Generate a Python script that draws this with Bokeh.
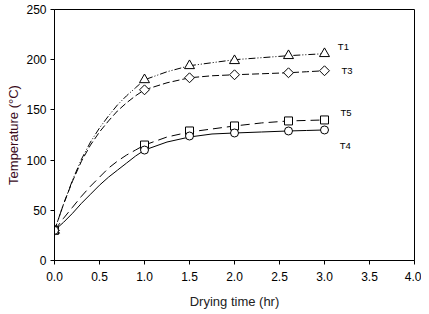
import math
from bokeh.plotting import figure
from bokeh.models import FixedTicker, NumeralTickFormatter, Label
from bokeh.embed import file_html
from bokeh.resources import INLINE

# measured points
time_pts = [0.0, 1.0, 1.5, 2.0, 2.6, 3.0]
t1_pts = [30, 180, 194, 199, 204, 206]
t3_pts = [30, 170, 182, 185, 187, 189]
t5_pts = [30, 115, 129, 134, 139, 140]
t4_pts = [30, 110, 124, 127, 129, 130]

# smooth fitted curves
curve_t = [0.0, 0.1, 0.2, 0.3, 0.4, 0.5, 0.6, 0.7, 0.8, 0.9, 1.0, 1.25, 1.5, 1.75, 2.0, 2.3, 2.6, 2.8, 3.0]
t1_curve = [30, 56, 80, 101, 118, 132, 144, 155, 164, 172, 180, 188, 194, 197, 200, 202, 204, 205, 206]
t3_curve = [30, 56, 79, 99, 115, 128, 139, 149, 157, 164, 170, 177, 182, 184, 185, 186, 187, 188, 189]
t5_curve = [30, 42, 53, 64, 74, 83, 92, 99, 105, 110, 115, 123, 128, 131, 134, 137, 139, 139.5, 140]
t4_curve = [30, 38, 47, 57, 66, 75, 83, 90, 97, 104, 110, 118, 123, 126, 127, 128, 129, 129.5, 130]

series_names = ["T1", "T3", "T5", "T4"]
x_ticks = [0.0, 0.5, 1.0, 1.5, 2.0, 2.5, 3.0, 3.5, 4.0]
y_ticks = [0, 50, 100, 150, 200, 250]

FONT = "Liberation Sans"

p = figure(width=421, height=311, x_range=(0, 4), y_range=(0, 250),
           output_backend="svg", toolbar_location=None,
           min_border_left=54, min_border_right=7, min_border_top=9, min_border_bottom=51)
p.grid.visible = False
p.outline_line_color = "black"
p.outline_line_width = 1
p.background_fill_color = "white"
p.border_fill_color = "white"

for ax in (p.xaxis[0], p.yaxis[0]):
    ax.major_tick_out = 4
    ax.major_tick_in = 0
    ax.minor_tick_line_color = None
    ax.axis_line_color = "black"
    ax.major_tick_line_color = "black"
    ax.major_label_text_font = FONT
    ax.major_label_text_font_size = "12px"
    ax.major_label_text_color = "black"
    ax.axis_label_text_font = FONT
    ax.axis_label_text_font_size = "13px"
    ax.axis_label_text_font_style = "normal"

p.xaxis.ticker = FixedTicker(ticks=x_ticks)
p.xaxis.formatter = NumeralTickFormatter(format="0.0")
p.yaxis.ticker = FixedTicker(ticks=y_ticks)
p.xaxis.axis_label = "Drying time (hr)"
p.yaxis.axis_label = "Temperature (°C)"
p.xaxis.axis_label_text_color = "#222222"
p.yaxis.axis_label_text_color = "#3a0a1a"
p.xaxis.axis_label_standoff = 10
p.yaxis.axis_label_standoff = 2
p.xaxis.major_label_standoff = 7
p.yaxis.major_label_standoff = 4

# curves
p.line(curve_t, t1_curve, line_color="black", line_width=1, line_dash="7 2 1 2 1 2")
p.line(curve_t, t3_curve, line_color="black", line_width=1, line_dash="7 3")
p.line(curve_t, t5_curve, line_color="black", line_width=1, line_dash="9 5")
p.line(curve_t, t4_curve, line_color="black", line_width=1)

# markers
p.scatter(time_pts, t1_pts, marker="triangle", size=10, fill_color="white", line_color="black", line_width=1)
p.scatter(time_pts, t3_pts, marker="square", size=7, angle=math.pi / 4, fill_color="white", line_color="black", line_width=1)
p.scatter(time_pts, t5_pts, marker="square", size=8, fill_color="white", line_color="black", line_width=1)
p.scatter(time_pts, t4_pts, marker="circle", size=8, fill_color="white", line_color="black", line_width=1)

label_x = [3.21, 3.25, 3.24, 3.23]
label_y = [213, 189, 147, 115]
for name, lx, ly in zip(series_names, label_x, label_y):
    p.add_layout(Label(x=lx, y=ly, text=name, text_font=FONT, text_font_size="9.5px",
                       text_color="black", text_align="center", text_baseline="middle"))

open("out.html", "w").write(file_html(p, INLINE))
